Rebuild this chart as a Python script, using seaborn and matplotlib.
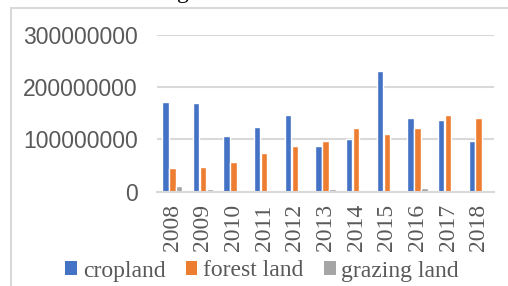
import matplotlib
matplotlib.use("Agg")
import matplotlib.pyplot as plt
import seaborn as sns
import pandas as pd
from matplotlib.patches import Patch, Rectangle
from matplotlib.ticker import FuncFormatter

years = ["2008", "2009", "2010", "2011", "2012", "2013", "2014", "2015", "2016", "2017", "2018"]
cropland = [172e6, 169e6, 107e6, 123e6, 146e6, 88e6, 101e6, 231e6, 141e6, 138e6, 97e6]
forest_land = [45e6, 47e6, 57e6, 75e6, 88e6, 97e6, 121e6, 111e6, 121e6, 147e6, 142e6]
grazing_land = [11e6, 5e6, 2e6, 4e6, 4e6, 5e6, 2e6, 4e6, 8e6, 3e6, 0.5e6]
series_names = ["cropland", "forest land", "grazing land"]
colors = ["#4472C4", "#ED7D31", "#A5A5A5"]
y_ticks = [0, 100000000, 200000000, 300000000]

rows = []
for name, vals in zip(series_names, [cropland, forest_land, grazing_land]):
    for yr, v in zip(years, vals):
        rows.append({"year": yr, "value": v, "type": name})
df = pd.DataFrame(rows)

sns.set_theme(style="white")
fig = plt.figure(figsize=(5.08, 2.86), dpi=100)
ax = fig.add_axes([157/508, 1-191.7/286, (494-157)/508, (191.7-35)/286])

sns.barplot(data=df, x="year", y="value", hue="type", palette=colors,
            width=0.68, gap=0.08, ax=ax, legend=False, saturation=1)

ax.set_ylim(0, 300000000)
ax.set_yticks(y_ticks)
ax.yaxis.set_major_formatter(FuncFormatter(lambda v, p: f"{int(round(v))}"))
ax.grid(axis="y", color="#d9d9d9", linewidth=1.5)
ax.set_axisbelow(True)
for s in ["left", "right", "top"]:
    ax.spines[s].set_visible(False)
ax.spines["bottom"].set_color("#d9d9d9")
ax.spines["bottom"].set_linewidth(1.5)
ax.set_xlabel("")
ax.set_ylabel("")
ax.tick_params(axis="both", length=0)
ax.tick_params(axis="y", pad=14, labelsize=16.5, labelcolor="#595959")
ax.tick_params(axis="x", pad=9, labelsize=17, labelcolor="#595959")
for lab in ax.get_yticklabels():
    lab.set_fontfamily("Liberation Sans")
for lab in ax.get_xticklabels():
    lab.set_fontfamily("Liberation Serif")
    lab.set_rotation(90)

handles = [Patch(facecolor=c, edgecolor="none") for c in colors]
leg = fig.legend(handles, series_names, loc="center", ncol=3,
                 bbox_to_anchor=(0.516, 1-271/286), frameon=False,
                 prop={"family": "Liberation Serif", "size": 17},
                 handlelength=0.5, handleheight=0.5, handletextpad=0.25,
                 columnspacing=0.85, borderpad=0, borderaxespad=0)
for t in leg.get_texts():
    t.set_color("#595959")

# chart-area border (cropped)
fig.patches.append(Rectangle((11/508, -0.2), 1.5, (1-8/286)+0.2,
                             transform=fig.transFigure, fill=False,
                             edgecolor="#d9d9d9", linewidth=1.5))
# cropped title fragment
fig.text(177/508, 1+2/286, "g", family="Liberation Serif", size=17,
         color="black", va="baseline", ha="left")

fig.savefig("out.png", dpi=100)
